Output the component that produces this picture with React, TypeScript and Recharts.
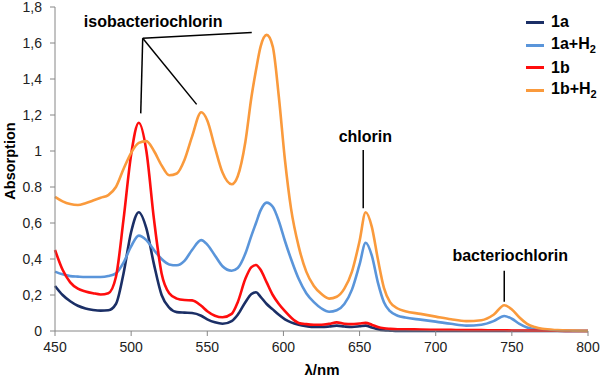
import React from 'react';
import { LineChart, Line, XAxis, YAxis, ReferenceLine, ReferenceDot, Legend } from 'recharts';

const wavelengths = [450,455,460,465,470,475,480,485,490,495,500,505,510,515,520,525,530,535,540,546,550,555,560,566,570,575,579,582,585,589,593,597,601,605,610,615,620,625,630,635,640,645,650,654,658,662,666,670,675,680,690,700,710,720,730,738,745,750,755,760,765,770,780,790,800];

const s1a = [0.25,0.2,0.165,0.14,0.125,0.117,0.113,0.115,0.15,0.32,0.55,0.66,0.57,0.37,0.2,0.13,0.105,0.102,0.1,0.085,0.065,0.048,0.04,0.055,0.09,0.16,0.205,0.215,0.19,0.15,0.12,0.09,0.065,0.048,0.035,0.027,0.022,0.022,0.025,0.03,0.025,0.022,0.026,0.03,0.02,0.01,0.004,0.002,0,0,0,0,0,0,0,0,0,0,0,0,0,0,0,0,0];

const s1aH2 = [0.33,0.315,0.305,0.302,0.3,0.3,0.3,0.305,0.32,0.38,0.47,0.53,0.505,0.45,0.4,0.37,0.365,0.39,0.45,0.505,0.48,0.42,0.36,0.335,0.35,0.43,0.53,0.6,0.67,0.713,0.69,0.61,0.5,0.4,0.29,0.21,0.16,0.125,0.107,0.115,0.15,0.23,0.37,0.49,0.42,0.27,0.16,0.11,0.085,0.075,0.063,0.052,0.04,0.03,0.035,0.055,0.083,0.068,0.04,0.02,0.01,0.005,0.001,0,0];

const s1b = [0.45,0.34,0.27,0.235,0.22,0.21,0.203,0.21,0.3,0.62,0.98,1.157,1.0,0.62,0.32,0.21,0.18,0.172,0.17,0.14,0.11,0.085,0.076,0.095,0.16,0.29,0.355,0.367,0.34,0.27,0.2,0.15,0.11,0.075,0.045,0.038,0.035,0.035,0.04,0.048,0.04,0.038,0.042,0.045,0.035,0.022,0.015,0.012,0.01,0.01,0.008,0.007,0.006,0.005,0.005,0.004,0.004,0.003,0.003,0.002,0.002,0.001,0.001,0,0];

const s1bH2 = [0.745,0.72,0.705,0.7,0.71,0.725,0.74,0.755,0.8,0.9,0.99,1.045,1.055,1.0,0.92,0.865,0.875,0.95,1.08,1.215,1.17,1.02,0.88,0.815,0.86,1.05,1.3,1.45,1.58,1.645,1.58,1.3,0.95,0.68,0.47,0.33,0.25,0.205,0.18,0.19,0.235,0.33,0.5,0.66,0.58,0.4,0.24,0.16,0.125,0.11,0.095,0.08,0.065,0.055,0.06,0.09,0.143,0.12,0.075,0.04,0.022,0.012,0.005,0.002,0];

const xTicks = [450,500,550,600,650,700,750,800];
const yTicks = [0,0.2,0.4,0.6,0.8,1,1.2,1.4,1.6,1.8];
const yTickLabels = ['0','0,2','0,4','0,6','0.8','1','1,2','1,4','1,6','1,8'];

const seriesKeys = ['s1a','s1aH2','s1b','s1bH2'];
const seriesNames = ['1a','1a+H2','1b','1b+H2'];
const seriesColors = ['#1B2F66','#5A95DA','#FF0D0D','#FA9A3C'];

const data = wavelengths.map((w, i) => ({
  w,
  s1a: s1a[i],
  s1aH2: s1aH2[i],
  s1b: s1b[i],
  s1bH2: s1bH2[i],
}));

const FONT = '"Liberation Sans", Arial, sans-serif';

const renderLegend = () => (
  <div style={{ fontFamily: FONT }}>
    {seriesNames.map((n, i) => {
      const parts = n.split('H2');
      return (
        <div key={n} style={{ height: 22.7, display: 'flex', alignItems: 'center' }}>
          <div style={{ width: 18, height: 3, background: seriesColors[i], marginRight: 7 }} />
          <span style={{ fontSize: 16, fontWeight: 'bold', color: '#000', whiteSpace: 'nowrap' }}>
            {parts[0]}
            {parts.length > 1 ? <>H<sub style={{ fontSize: 11 }}>2</sub></> : null}
          </span>
        </div>
      );
    })}
  </div>
);

const labelStyle = { fontSize: 16, fontWeight: 'bold', fill: '#000', fontFamily: FONT };

export default function App() {
  return (
    <div style={{ position: 'absolute', left: 0, top: 0, width: 603, height: 377, background: '#fff' }}>
      <LineChart
        width={603}
        height={377}
        data={data}
        margin={{ top: 7, right: 15, left: 10, bottom: 16 }}
        style={{ fontFamily: FONT }}
      >
        <XAxis
          dataKey="w"
          type="number"
          domain={[450, 800]}
          ticks={xTicks}
          height={30}
          stroke="#868686"
          tickSize={5}
          tickMargin={6}
          tick={{ fontSize: 14, fill: '#222', fontFamily: FONT }}
          label={() => (
            <text x={322} y={369} textAnchor="middle" dominantBaseline="central" style={{ fontSize: 15, fontWeight: 'bold', fill: '#000', fontFamily: FONT }}>
              λ/nm
            </text>
          )}
        />
        <YAxis
          type="number"
          domain={[0, 1.8]}
          ticks={yTicks}
          width={45}
          stroke="#868686"
          tickSize={5}
          tickMargin={8}
          interval={0}
          tickFormatter={(v, i) => yTickLabels[i]}
          tick={{ fontSize: 14, fill: '#222', fontFamily: FONT }}
          label={() => (
            <text x={10} y={161} transform="rotate(-90 10 161)" textAnchor="middle" dominantBaseline="central" style={{ fontSize: 14.5, fontWeight: 'bold', fill: '#000', fontFamily: FONT }}>
              Absorption
            </text>
          )}
        />
        {seriesKeys.map((k, i) => (
          <Line
            key={k}
            dataKey={k}
            name={seriesNames[i]}
            type="monotone"
            stroke={seriesColors[i]}
            strokeWidth={2.6}
            dot={false}
            activeDot={false}
            isAnimationActive={false}
          />
        ))}
        <ReferenceLine segment={[{ x: 507.6, y: 1.626 }, { x: 579.2, y: 1.659 }]} stroke="#000" strokeWidth={1.5} ifOverflow="visible" />
        <ReferenceLine segment={[{ x: 507.6, y: 1.626 }, { x: 506.3, y: 1.209 }]} stroke="#000" strokeWidth={1.5} ifOverflow="visible" />
        <ReferenceLine segment={[{ x: 507.6, y: 1.626 }, { x: 543.0, y: 1.259 }]} stroke="#000" strokeWidth={1.5} ifOverflow="visible" />
        <ReferenceLine segment={[{ x: 652.4, y: 1.006 }, { x: 652.4, y: 0.682 }]} stroke="#000" strokeWidth={1.5} ifOverflow="visible" />
        <ReferenceLine segment={[{ x: 745.0, y: 0.335 }, { x: 745.0, y: 0.163 }]} stroke="#000" strokeWidth={1.5} ifOverflow="visible" />
        <ReferenceDot x={514.5} y={1.72} r={0} stroke="none" fill="none" ifOverflow="visible"
          label={{ value: 'isobacteriochlorin', position: 'center', ...labelStyle }} />
        <ReferenceDot x={653.8} y={1.083} r={0} stroke="none" fill="none" ifOverflow="visible"
          label={{ value: 'chlorin', position: 'center', ...labelStyle }} />
        <ReferenceDot x={748.9} y={0.422} r={0} stroke="none" fill="none" ifOverflow="visible"
          label={{ value: 'bacteriochlorin', position: 'center', ...labelStyle }} />
        <Legend
          layout="vertical"
          verticalAlign="middle"
          align="center"
          wrapperStyle={{ top: 11, left: 526, width: 80 }}
          content={renderLegend}
        />
      </LineChart>
    </div>
  );
}
